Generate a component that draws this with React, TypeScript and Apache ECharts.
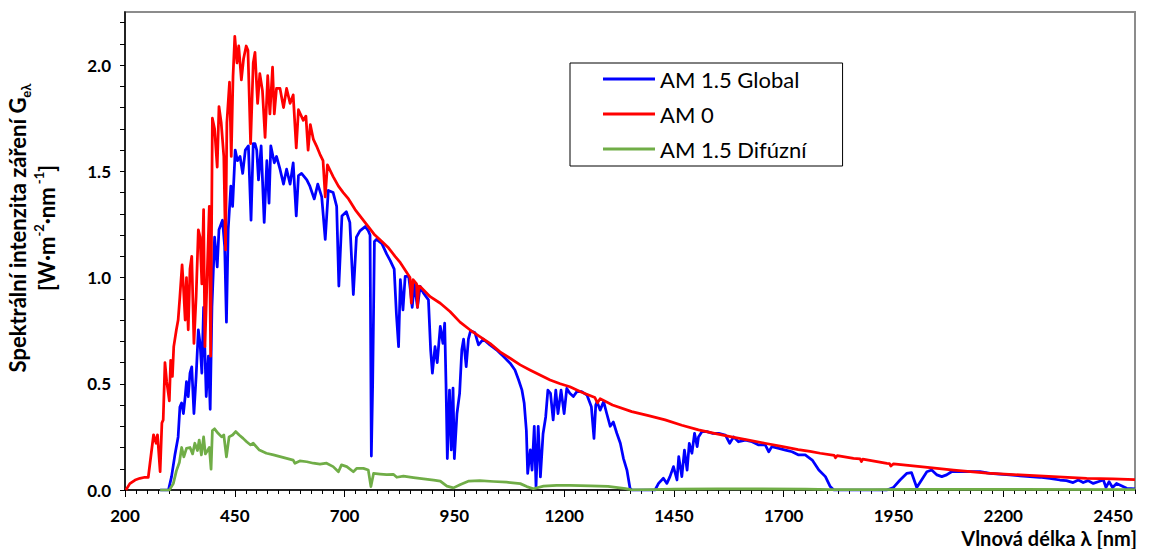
import React, { useEffect, useRef } from "react";
import * as echarts from "echarts";

// Wavelength axis tick labels (nm) and y-axis tick labels
const X_MAJOR = [200, 450, 700, 950, 1200, 1450, 1700, 1950, 2200, 2450];
const Y_MAJOR = [0, 0.5, 1.0, 1.5, 2.0];

// AM 0 (extraterrestrial)
const AM0_NM = [202, 211, 223, 234, 245, 253, 257, 265, 271, 274, 280, 284, 287, 291, 295, 301, 304, 308, 311, 317, 321, 325, 330, 333, 337, 340, 344, 348, 352, 357, 362, 367, 371, 375, 379, 382, 388, 392, 395, 399, 404, 410, 414, 419, 425, 429, 432, 438, 442, 446, 450, 455, 459, 465, 470, 476, 480, 486, 492, 496, 502, 507, 513, 519, 525, 530, 536, 540, 545, 553, 561, 568, 576, 583, 590, 595, 606, 612, 617, 622, 629, 636, 644, 651, 656, 661, 674, 686, 697, 709, 724, 739, 754, 769, 785, 800, 815, 827, 849, 852, 856, 864, 866, 869, 872, 895, 918, 940, 963, 986, 1008, 1031, 1054, 1077, 1100, 1122, 1145, 1168, 1191, 1213, 1240, 1270, 1276, 1282, 1310, 1354, 1392, 1430, 1468, 1506, 1545, 1581, 1620, 1657, 1695, 1733, 1760, 1783, 1815, 1818, 1822, 1859, 1874, 1877, 1880, 1935, 1941, 1944, 1950, 2011, 2087, 2163, 2238, 2314, 2390, 2450, 2500];
const AM0_VAL = [0.0, 0.03, 0.047, 0.055, 0.06, 0.06, 0.127, 0.26, 0.22, 0.26, 0.086, 0.315, 0.33, 0.6, 0.51, 0.42, 0.61, 0.535, 0.675, 0.754, 0.8, 0.91, 1.06, 0.96, 0.8, 1.0, 0.754, 1.04, 1.1, 0.69, 0.91, 1.225, 1.19, 0.97, 1.32, 0.675, 1.07, 1.335, 0.63, 1.75, 1.7, 1.52, 1.805, 1.73, 1.57, 1.13, 1.73, 1.92, 1.57, 1.946, 2.135, 2.01, 2.09, 1.93, 2.03, 2.09, 2.07, 1.63, 2.01, 2.06, 1.82, 1.96, 1.88, 1.66, 1.95, 1.77, 1.99, 1.77, 1.89, 1.89, 1.8, 1.89, 1.82, 1.86, 1.61, 1.79, 1.74, 1.76, 1.6, 1.72, 1.65, 1.62, 1.58, 1.55, 1.38, 1.53, 1.475, 1.43, 1.4, 1.37, 1.32, 1.28, 1.24, 1.2, 1.17, 1.14, 1.1, 1.07, 1.0, 0.88, 0.99, 0.97, 0.86, 0.96, 0.958, 0.91, 0.879, 0.84, 0.79, 0.753, 0.722, 0.69, 0.65, 0.62, 0.589, 0.565, 0.541, 0.518, 0.5, 0.486, 0.46, 0.435, 0.41, 0.43, 0.4, 0.369, 0.35, 0.33, 0.305, 0.283, 0.265, 0.25, 0.235, 0.22, 0.205, 0.19, 0.182, 0.173, 0.163, 0.152, 0.162, 0.149, 0.146, 0.134, 0.145, 0.125, 0.124, 0.113, 0.123, 0.11, 0.094, 0.079, 0.071, 0.063, 0.055, 0.052, 0.049];

// AM 1.5 Global
const GLOBAL_NM = [280, 299, 306, 314, 321, 325, 329, 333, 337, 340, 344, 348, 352, 357, 362, 367, 371, 375, 379, 385, 390, 394, 398, 404, 410, 414, 422, 427, 431, 435, 441, 445, 451, 456, 462, 468, 474, 481, 487, 492, 496, 500, 504, 510, 517, 523, 528, 532, 540, 545, 553, 561, 568, 576, 583, 590, 595, 602, 614, 621, 631, 639, 648, 656, 663, 674, 682, 687, 694, 704, 712, 720, 727, 735, 747, 754, 758, 761, 764, 768, 773, 785, 796, 804, 813, 818, 823, 827, 833, 838, 846, 850, 854, 859, 866, 872, 880, 891, 896, 900, 906, 911, 918, 924, 928, 931, 934, 939, 943, 947, 950, 956, 962, 967, 971, 977, 982, 987, 997, 1005, 1016, 1031, 1046, 1062, 1077, 1088, 1096, 1104, 1109, 1114, 1117, 1123, 1127, 1132, 1136, 1141, 1146, 1152, 1158, 1163, 1169, 1175, 1181, 1186, 1193, 1200, 1206, 1213, 1221, 1229, 1240, 1252, 1262, 1268, 1272, 1275, 1282, 1290, 1297, 1305, 1312, 1320, 1328, 1335, 1343, 1350, 1354, 1407, 1415, 1426, 1434, 1441, 1449, 1457, 1461, 1468, 1474, 1480, 1485, 1491, 1497, 1503, 1506, 1514, 1525, 1537, 1552, 1567, 1577, 1586, 1597, 1613, 1628, 1643, 1658, 1666, 1673, 1689, 1704, 1719, 1734, 1749, 1765, 1780, 1795, 1806, 1814, 1935, 1950, 1965, 1980, 1991, 2003, 2014, 2026, 2037, 2049, 2060, 2071, 2082, 2101, 2124, 2147, 2170, 2192, 2215, 2238, 2261, 2283, 2306, 2329, 2344, 2359, 2371, 2382, 2393, 2405, 2416, 2428, 2434, 2441, 2449, 2458, 2469, 2481, 2500];
const GLOBAL_VAL = [0, 0, 0.063, 0.17, 0.25, 0.39, 0.41, 0.36, 0.44, 0.51, 0.44, 0.55, 0.58, 0.36, 0.535, 0.754, 0.69, 0.55, 0.86, 0.44, 0.63, 0.38, 0.86, 1.19, 1.05, 1.225, 1.27, 1.145, 0.79, 1.225, 1.43, 1.335, 1.6, 1.55, 1.57, 1.49, 1.6, 1.62, 1.27, 1.63, 1.63, 1.6, 1.46, 1.62, 1.26, 1.55, 1.35, 1.62, 1.54, 1.57, 1.51, 1.44, 1.51, 1.44, 1.54, 1.29, 1.48, 1.49, 1.46, 1.43, 1.37, 1.44, 1.38, 1.18, 1.41, 1.4, 1.335, 0.96, 1.29, 1.31, 1.26, 0.92, 1.19, 1.22, 1.24, 1.22, 1.2, 0.16, 0.5, 1.17, 1.18, 1.16, 1.11, 1.08, 1.04, 0.83, 0.675, 0.99, 0.848, 1.005, 1.005, 0.94, 0.86, 0.97, 0.86, 0.958, 0.926, 0.895, 0.66, 0.55, 0.675, 0.6, 0.77, 0.69, 0.785, 0.5, 0.148, 0.47, 0.189, 0.48, 0.148, 0.36, 0.455, 0.66, 0.71, 0.581, 0.71, 0.75, 0.74, 0.683, 0.71, 0.683, 0.66, 0.628, 0.597, 0.565, 0.52, 0.47, 0.41, 0.28, 0.078, 0.189, 0.094, 0.3, 0.016, 0.3, 0.062, 0.265, 0.344, 0.47, 0.455, 0.33, 0.47, 0.36, 0.47, 0.36, 0.478, 0.455, 0.44, 0.463, 0.463, 0.447, 0.392, 0.243, 0.4, 0.416, 0.376, 0.416, 0.36, 0.3, 0.32, 0.267, 0.22, 0.149, 0.094, 0.008, 0, 0, 0.031, 0.055, 0.031, 0.063, 0.11, 0.047, 0.157, 0.063, 0.188, 0.094, 0.22, 0.173, 0.267, 0.204, 0.25, 0.275, 0.275, 0.267, 0.267, 0.259, 0.22, 0.25, 0.227, 0.235, 0.227, 0.212, 0.212, 0.18, 0.204, 0.196, 0.188, 0.18, 0.165, 0.165, 0.141, 0.094, 0.063, 0.016, 0, 0, 0.012, 0.047, 0.078, 0.082, 0.012, 0.047, 0.086, 0.094, 0.071, 0.063, 0.071, 0.086, 0.086, 0.086, 0.086, 0.078, 0.075, 0.071, 0.067, 0.063, 0.06, 0.055, 0.047, 0.044, 0.035, 0.047, 0.035, 0.044, 0.031, 0.039, 0.047, 0.012, 0.039, 0.012, 0.031, 0.02, 0.008, 0.005];

// AM 1.5 Diffuse
const DIFFUSE_NM = [280, 301, 310, 317, 324, 329, 334, 340, 348, 354, 359, 365, 369, 374, 379, 383, 388, 392, 396, 399, 404, 412, 420, 425, 431, 437, 445, 452, 460, 469, 477, 486, 492, 506, 522, 538, 553, 568, 583, 587, 598, 614, 629, 644, 659, 674, 686, 693, 705, 720, 728, 743, 754, 760, 766, 781, 796, 811, 819, 834, 857, 880, 903, 918, 933, 948, 964, 983, 1008, 1039, 1069, 1100, 1115, 1130, 1153, 1183, 1213, 1260, 1300, 1340, 1354, 1400, 1450, 1550, 1650, 1750, 1810, 1900, 2000, 2200, 2500];
const DIFFUSE_VAL = [0, 0, 0.03, 0.09, 0.131, 0.2, 0.156, 0.196, 0.2, 0.17, 0.22, 0.186, 0.235, 0.165, 0.25, 0.17, 0.186, 0.2, 0.098, 0.28, 0.288, 0.267, 0.25, 0.259, 0.156, 0.25, 0.259, 0.275, 0.259, 0.243, 0.227, 0.212, 0.22, 0.188, 0.173, 0.165, 0.157, 0.149, 0.141, 0.126, 0.137, 0.133, 0.126, 0.122, 0.126, 0.11, 0.086, 0.118, 0.11, 0.086, 0.102, 0.102, 0.094, 0.016, 0.078, 0.075, 0.072, 0.074, 0.06, 0.065, 0.058, 0.052, 0.046, 0.042, 0.018, 0.01, 0.026, 0.042, 0.044, 0.04, 0.037, 0.03, 0.016, 0.006, 0.018, 0.022, 0.022, 0.02, 0.017, 0.006, 0.001, 0.002, 0.004, 0.005, 0.005, 0.004, 0.002, 0.002, 0.003, 0.003, 0.002];

const SERIES_NAMES = ["AM 1.5 Global", "AM 0", "AM 1.5 Difúzní"];

const pairs = (xs: number[], ys: number[]) => xs.map((x, i) => [x, ys[i]]);

const X_MINOR: number[] = [];
for (let v = 225; v <= 2500; v += 25) if (!X_MAJOR.includes(v)) X_MINOR.push(v);
const Y_MINOR: number[] = [];
for (let i = 1; i <= 22; i++) if (i % 5 !== 0) Y_MINOR.push(i / 10);

export default function App() {
  const ref = useRef<HTMLDivElement>(null);
  useEffect(() => {
    if (!ref.current) return;
    const chart = echarts.init(ref.current, undefined, { renderer: "svg" });
    const font = "Lato";
    chart.setOption({
      animation: false,
      backgroundColor: "#fff",
      grid: {
        left: 125, right: 22, top: 12, bottom: 59,
        show: true, borderColor: "#8c8c8c", borderWidth: 2,
        outerBoundsMode: "none",
      },
      legend: {
        orient: "vertical",
        left: 570, top: 63,
        padding: [4, 36, 5, 33],
        borderColor: "#000", borderWidth: 1,
        icon: "rect", itemWidth: 52, itemHeight: 3, itemGap: 11,
        textStyle: { fontFamily: font, fontSize: 22, color: "#000", lineHeight: 24 },
        data: SERIES_NAMES,
      },
      xAxis: [
        {
          type: "value", min: 200, max: 2500, position: "bottom",
          axisLine: { show: true, lineStyle: { color: "#000", width: 1.5 } },
          axisTick: { show: true, customValues: X_MAJOR, length: 7, lineStyle: { color: "#000", width: 1 } },
          axisLabel: {
            customValues: X_MAJOR, margin: 17, color: "#000",
            fontFamily: font, fontWeight: "bold", fontSize: 17,
            formatter: (v: number) => String(v),
          },
          splitLine: { show: false },
        },
        {
          type: "value", min: 200, max: 2500, position: "bottom",
          axisLine: { show: false },
          axisTick: { show: true, customValues: X_MINOR, length: 4, lineStyle: { color: "#000", width: 1 } },
          axisLabel: { show: false },
          splitLine: { show: false },
        },
      ],
      yAxis: [
        {
          type: "value", min: 0, max: 2.25, position: "left",
          axisLine: { show: true, lineStyle: { color: "#000", width: 1.5 } },
          axisTick: { show: true, customValues: Y_MAJOR, length: 5, lineStyle: { color: "#000", width: 1 } },
          axisLabel: {
            customValues: Y_MAJOR, margin: 14, color: "#000",
            fontFamily: font, fontWeight: "bold", fontSize: 17,
            formatter: (v: number) => v.toFixed(1),
          },
          splitLine: { show: false },
        },
        {
          type: "value", min: 0, max: 2.25, position: "left",
          axisLine: { show: false },
          axisTick: { show: true, customValues: Y_MINOR, length: 5, lineStyle: { color: "#000", width: 1 } },
          axisLabel: { show: false },
          splitLine: { show: false },
        },
      ],
      series: [
        {
          name: SERIES_NAMES[0], type: "line", data: pairs(GLOBAL_NM, GLOBAL_VAL),
          showSymbol: false, symbol: "none", z: 2,
          lineStyle: { color: "#0000ff", width: 2.75, join: "round" }, itemStyle: { color: "#0000ff" },
        },
        {
          name: SERIES_NAMES[1], type: "line", data: pairs(AM0_NM, AM0_VAL),
          showSymbol: false, symbol: "none", z: 3,
          lineStyle: { color: "#ff0000", width: 2.75, join: "round" }, itemStyle: { color: "#ff0000" },
        },
        {
          name: SERIES_NAMES[2], type: "line", data: pairs(DIFFUSE_NM, DIFFUSE_VAL),
          showSymbol: false, symbol: "none", z: 4,
          lineStyle: { color: "#70ad47", width: 2.75, join: "round" }, itemStyle: { color: "#70ad47" },
        },
      ],
      graphic: [
        {
          type: "text", x: 32, y: 228, rotation: Math.PI / 2,
          style: {
            text: "Spektrální intenzita záření G{sub|eλ}\n[W·m{sup|-2}·nm{sup| -1}]",
            fontFamily: font, fontWeight: "bold", fontSize: 22, lineHeight: 29,
            fill: "#000", align: "center", verticalAlign: "middle",
            rich: {
              sub: { fontFamily: font, fontWeight: "bold", fontSize: 13, lineHeight: 18, verticalAlign: "bottom", fill: "#000" },
              sup: { fontFamily: font, fontWeight: "bold", fontSize: 13, lineHeight: 20, verticalAlign: "top", fill: "#000" },
            },
          },
        },
        {
          type: "text", x: 1137, y: 538,
          style: {
            text: "Vlnová délka λ [nm]",
            fontFamily: font, fontWeight: "bold", fontSize: 20,
            fill: "#000", align: "right", verticalAlign: "middle",
          },
        },
      ],
    });
    return () => chart.dispose();
  }, []);
  return <div ref={ref} style={{ position: "fixed", left: 0, top: 0, width: 1157, height: 549 }} />;
}
